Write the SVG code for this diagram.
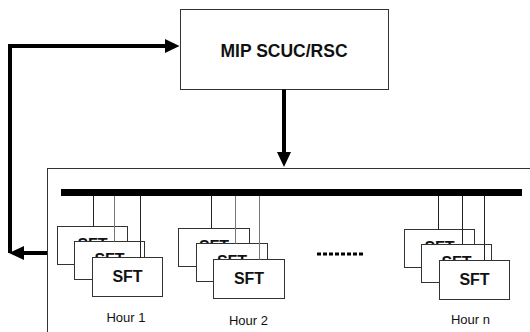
<svg xmlns="http://www.w3.org/2000/svg" width="530" height="332" viewBox="0 0 530 332">
<style>
.box{fill:#fff;stroke:#333;stroke-width:1}
.sft{font-family:"Liberation Sans",Arial,sans-serif;font-weight:bold;font-size:16px;text-anchor:middle;fill:#111}
.lbl{font-family:"Liberation Sans",Arial,sans-serif;font-size:13px;text-anchor:middle;fill:#111}
.wire{stroke:#222;stroke-width:1;fill:none}
.wire2{stroke:#777;stroke-width:1;fill:none}
.thick{stroke:#000;stroke-width:4;fill:none}
</style>
<rect width="530" height="332" fill="#fff"/>
<g id="mip">
<rect class="box" x="180.5" y="9.5" width="208" height="80"/>
<text x="284" y="57" font-family="'Liberation Sans',Arial,sans-serif" font-weight="bold" font-size="17.5" text-anchor="middle" fill="#111">MIP SCUC/RSC</text>
</g>
<g id="container">
<rect class="box" x="47.5" y="168.5" width="500" height="200"/>
<rect x="61" y="189" width="461" height="7" fill="#000"/>
<line x1="317" y1="254" x2="364" y2="254" stroke="#000" stroke-width="3" stroke-dasharray="4 2"/>
</g>
<g id="hour1">
<rect class="box" x="57.5" y="226.5" width="70" height="38"/>
<text class="sft" x="92.5" y="249.5">SFT</text>
<rect class="box" x="74.5" y="241.5" width="70" height="38"/>
<text class="sft" x="109.5" y="265">SFT</text>
<rect class="box" x="92.5" y="257.5" width="70" height="39"/>
<text class="sft" x="127.5" y="282">SFT</text>
<line class="wire" x1="93.5" y1="196" x2="93.5" y2="226.5"/>
<line class="wire2" x1="114.5" y1="196" x2="114.5" y2="241.5"/>
<line class="wire" x1="140.5" y1="196" x2="140.5" y2="257.5"/>
<text class="lbl" x="126" y="322">Hour 1</text>
</g>
<g id="hour2">
<rect class="box" x="178.5" y="228.5" width="71" height="38"/>
<text class="sft" x="214" y="251.5">SFT</text>
<rect class="box" x="196.5" y="243.5" width="71" height="38"/>
<text class="sft" x="232" y="267">SFT</text>
<rect class="box" x="213.5" y="259.5" width="71" height="39"/>
<text class="sft" x="249" y="284">SFT</text>
<line class="wire" x1="211.5" y1="196" x2="211.5" y2="228.5"/>
<line class="wire2" x1="235.5" y1="196" x2="235.5" y2="243.5"/>
<line class="wire2" x1="259.5" y1="196" x2="259.5" y2="259.5"/>
<text class="lbl" x="248.5" y="325">Hour 2</text>
</g>
<g id="hourn">
<rect class="box" x="404.5" y="229.5" width="70" height="38"/>
<text class="sft" x="439.5" y="252.5">SFT</text>
<rect class="box" x="421.5" y="244.5" width="70" height="38"/>
<text class="sft" x="456.5" y="268">SFT</text>
<rect class="box" x="439.5" y="260.5" width="70" height="39"/>
<text class="sft" x="474.5" y="285">SFT</text>
<line class="wire" x1="438.5" y1="196" x2="438.5" y2="229.5"/>
<line class="wire" x1="462.5" y1="196" x2="462.5" y2="244.5"/>
<line class="wire" x1="484.5" y1="196" x2="484.5" y2="260.5"/>
<text class="lbl" x="470.5" y="324">Hour n</text>
</g>
<g id="connectors">
<path class="thick" d="M284,89.5 V152"/>
<path d="M277,152 L291,152 L284,167 Z" fill="#000"/>
<path class="thick" d="M47,253 H24"/>
<path d="M24,246 L24,260 L9,253 Z" fill="#000"/>
<path class="thick" d="M10,253 V46 H165"/>
<path d="M165,39 L165,53 L179.5,46 Z" fill="#000"/>
</g>
</svg>
